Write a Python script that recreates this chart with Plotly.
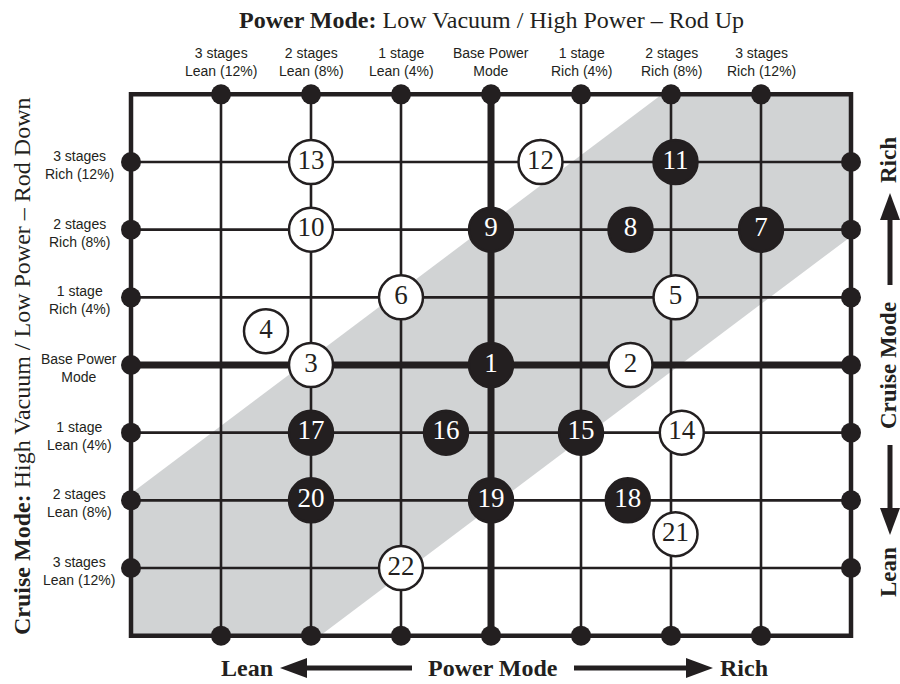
import plotly.graph_objects as go

# ---------------- data ----------------
stages = [-3, -2, -1, 0, 1, 2, 3]
col_labels = ["3 stages<br>Lean (12%)", "2 stages<br>Lean (8%)", "1 stage<br>Lean (4%)",
              "Base Power<br>Mode", "1 stage<br>Rich (4%)", "2 stages<br>Rich (8%)",
              "3 stages<br>Rich (12%)"]
row_labels = ["3 stages<br>Lean (12%)", "2 stages<br>Lean (8%)", "1 stage<br>Lean (4%)",
              "Base Power<br>Mode", "1 stage<br>Rich (4%)", "2 stages<br>Rich (8%)",
              "3 stages<br>Rich (12%)"]
grid_limit = 4
band_x = [-4, 1.9, 4, 4, -1.9, -4]
band_y = [-1.9, 4, 4, 1.9, -4, -4]

point_ids = list(range(1, 23))
point_x = [0, 1.55, -2, -2.5, 2.05, -1, 3, 1.55, 0, -2, 2.05,
           0.55, -2, 2.12, 1.0, -0.5, -2, 1.52, 0, -2, 2.05, -1]
point_y = [0, 0, 0, 0.5, 1, 1, 2, 2, 2, 2, 3,
           3, 3, -1, -1, -1, -1, -2, -2, -2, -2.5, -3]
point_filled = [True, False, False, False, False, False, True, True, True, False, True,
                False, False, False, True, True, True, True, True, True, False, False]

title_top = "<b>Power Mode:</b> Low Vacuum / High Power \u2013 Rod Up"
title_left = "<b>Cruise Mode:</b> High Vacuum / Low Power \u2013 Rod Down"

# ---------------- styling / geometry helpers ----------------
INK = "#231f20"
GRAY = "#d1d3d4"
W, H = 900, 684
X0, XS = 491.0, 90.0      # pixel of stage 0, pixels per stage (x)
Y0, YS = 365.0, 67.67     # pixel of stage 0, pixels per stage (y)


def fx(px):
    return (px - X0) / XS


def fy(py):
    return (Y0 - py) / YS


SERIF = "Liberation Serif, Times New Roman, serif"
SANS = "Liberation Sans, Arial, sans-serif"

fig = go.Figure()

# grid lines
thin_x, thin_y, thick_x, thick_y = [], [], [], []
for s in stages:
    vx = [s, s, None]
    vy = [-grid_limit, grid_limit, None]
    hx = [-grid_limit, grid_limit, None]
    hy = [s, s, None]
    if s == 0:
        thick_x += vx + hx
        thick_y += vy + hy
    else:
        thin_x += vx + hx
        thin_y += vy + hy
fig.add_trace(go.Scatter(x=thin_x, y=thin_y, mode="lines",
                         line=dict(color=INK, width=2.6), hoverinfo="skip"))
fig.add_trace(go.Scatter(x=thick_x, y=thick_y, mode="lines",
                         line=dict(color=INK, width=7), hoverinfo="skip"))

# edge dots
ex, ey = [], []
for s in stages:
    ex += [s, s, -grid_limit, grid_limit]
    ey += [grid_limit, -grid_limit, s, s]
fig.add_trace(go.Scatter(x=ex, y=ey, mode="markers",
                         marker=dict(size=20, color=INK, line=dict(width=0)),
                         hoverinfo="skip", cliponaxis=False))

# numbered circles
fig.add_trace(go.Scatter(
    x=point_x, y=point_y, mode="markers+text",
    text=[str(i) for i in point_ids], textposition="middle center",
    textfont=dict(family=SERIF, size=27,
                  color=["white" if f else INK for f in point_filled]),
    marker=dict(size=44,
                color=[INK if f else "white" for f in point_filled],
                line=dict(color=INK, width=2.5)),
    hoverinfo="skip", cliponaxis=False))

shapes = []
# gray band
path = "M " + " L ".join(f"{a},{b}" for a, b in zip(band_x, band_y)) + " Z"
shapes.append(dict(type="path", path=path, xref="x", yref="y",
                   fillcolor=GRAY, line=dict(width=0), layer="below"))
# border
shapes.append(dict(type="rect", xref="x", yref="y",
                   x0=-grid_limit, x1=grid_limit, y0=-grid_limit, y1=grid_limit,
                   line=dict(color=INK, width=4.5), layer="below"))


def harrow(x_tail, x_tip, py, half=10, head=27, width=5):
    d = 1 if x_tip > x_tail else -1
    base = x_tip - d * head
    shapes.append(dict(type="line", xref="x", yref="y",
                       x0=fx(x_tail), x1=fx(base + d * 2), y0=fy(py), y1=fy(py),
                       line=dict(color=INK, width=width)))
    p = f"M {fx(x_tip)},{fy(py)} L {fx(base)},{fy(py - half)} L {fx(base)},{fy(py + half)} Z"
    shapes.append(dict(type="path", xref="x", yref="y", path=p,
                       fillcolor=INK, line=dict(width=0)))


def varrow(px, y_tail, y_tip, half=10, head=27, width=5):
    d = 1 if y_tip > y_tail else -1
    base = y_tip - d * head
    shapes.append(dict(type="line", xref="x", yref="y",
                       x0=fx(px), x1=fx(px), y0=fy(y_tail), y1=fy(base + d * 2),
                       line=dict(color=INK, width=width)))
    p = f"M {fx(px)},{fy(y_tip)} L {fx(px - half)},{fy(base)} L {fx(px + half)},{fy(base)} Z"
    shapes.append(dict(type="path", xref="x", yref="y", path=p,
                       fillcolor=INK, line=dict(width=0)))


harrow(412, 280, 668)
harrow(574, 713, 668)
varrow(890, 285, 193)
varrow(890, 445, 535)

annotations = []
for s, lab in zip(stages, col_labels):
    annotations.append(dict(x=s, y=fy(62), xref="x", yref="y", text=lab, showarrow=False,
                            font=dict(family=SANS, size=14, color=INK),
                            xanchor="center", yanchor="middle"))
for s, lab in zip(stages, row_labels):
    annotations.append(dict(x=fx(79), y=s - 3 / YS, xref="x", yref="y", text=lab,
                            showarrow=False,
                            font=dict(family=SANS, size=14, color=INK),
                            xanchor="center", yanchor="middle"))

annotations.append(dict(x=fx(491), y=fy(20), xref="x", yref="y", text=title_top,
                        showarrow=False, font=dict(family=SERIF, size=24, color=INK),
                        xanchor="center", yanchor="middle"))
annotations.append(dict(x=fx(22), y=fy(366), xref="x", yref="y", text=title_left,
                        showarrow=False, textangle=-90,
                        font=dict(family=SERIF, size=24, color=INK),
                        xanchor="center", yanchor="middle"))
for txt, px, py in [("Lean", 247, 668), ("Power Mode", 493, 668), ("Rich", 744, 668)]:
    annotations.append(dict(x=fx(px), y=fy(py), xref="x", yref="y", text=f"<b>{txt}</b>",
                            showarrow=False, font=dict(family=SERIF, size=24, color=INK),
                            xanchor="center", yanchor="middle"))
for txt, py in [("Rich", 160), ("Cruise Mode", 366), ("Lean", 572)]:
    annotations.append(dict(x=fx(888), y=fy(py), xref="x", yref="y", text=f"<b>{txt}</b>",
                            showarrow=False, textangle=-90,
                            font=dict(family=SERIF, size=23, color=INK),
                            xanchor="center", yanchor="middle"))

fig.update_layout(
    width=W, height=H, margin=dict(l=0, r=0, t=0, b=0),
    paper_bgcolor="white", plot_bgcolor="white", showlegend=False,
    xaxis=dict(range=[fx(0), fx(W)], visible=False, fixedrange=True),
    yaxis=dict(range=[fy(H), fy(0)], visible=False, fixedrange=True),
    shapes=shapes, annotations=annotations,
)

fig.write_html("out.html", config={"displayModeBar": False},
               post_script="document.body.style.margin='0px';"
                           "document.body.style.overflow='hidden';")
